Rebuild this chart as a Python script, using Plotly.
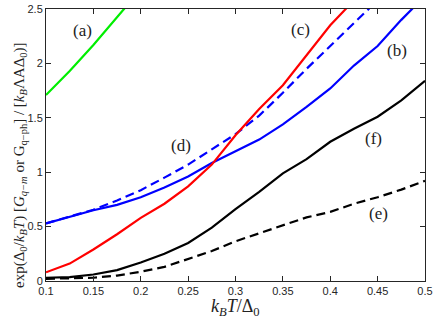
import plotly.graph_objects as go

# temperature grid k_B T / Delta_0
T = [0.1, 0.125, 0.15, 0.175, 0.2, 0.225, 0.25, 0.275, 0.3, 0.325,
     0.35, 0.375, 0.4, 0.425, 0.45, 0.475, 0.5]

# curve values
T_a = [0.1, 0.125, 0.15, 0.175, 0.2]
y_a = [1.71, 1.93, 2.17, 2.42, 2.68]
y_b = [0.53, 0.59, 0.65, 0.70, 0.77, 0.86, 0.96, 1.085, 1.19, 1.30,
       1.44, 1.60, 1.77, 1.98, 2.16, 2.40, 2.62]
T_c = [0.1, 0.125, 0.15, 0.175, 0.2, 0.225, 0.25, 0.275, 0.3, 0.325,
       0.35, 0.375, 0.4, 0.425]
y_c = [0.08, 0.16, 0.29, 0.43, 0.58, 0.71, 0.87, 1.07, 1.34, 1.58,
       1.80, 2.08, 2.35, 2.58]
T_d = [0.1, 0.125, 0.15, 0.175, 0.2, 0.225, 0.25, 0.275, 0.3, 0.325,
       0.35, 0.375, 0.4, 0.425, 0.45]
y_d = [0.53, 0.59, 0.655, 0.74, 0.835, 0.95, 1.07, 1.21, 1.35, 1.52,
       1.73, 1.95, 2.16, 2.37, 2.58]
y_e = [0.02, 0.022, 0.03, 0.05, 0.085, 0.13, 0.205, 0.275, 0.365, 0.44,
       0.51, 0.585, 0.635, 0.71, 0.77, 0.84, 0.92]
y_f = [0.03, 0.035, 0.06, 0.10, 0.17, 0.25, 0.35, 0.49, 0.66, 0.82,
       0.99, 1.12, 1.28, 1.40, 1.51, 1.66, 1.84]

labels = ['(a)', '(b)', '(c)', '(d)', '(e)', '(f)']
label_x = [0.139, 0.470, 0.369, 0.242, 0.451, 0.446]
label_y = [2.30, 2.12, 2.31, 1.25, 0.62, 1.31]

serif = 'Liberation Serif, Times New Roman, serif'
lw = 2.2

traces = [
    go.Scatter(x=T_a, y=y_a, mode='lines', line=dict(color='#00ee00', width=lw)),
    go.Scatter(x=T_d, y=y_d, mode='lines', line=dict(color='#0000ff', width=lw, dash='9px,5px')),
    go.Scatter(x=T, y=y_b, mode='lines', line=dict(color='#0000ff', width=lw)),
    go.Scatter(x=T_c, y=y_c, mode='lines', line=dict(color='#ff0000', width=lw)),
    go.Scatter(x=T, y=y_e, mode='lines', line=dict(color='black', width=lw, dash='9px,5px')),
    go.Scatter(x=T, y=y_f, mode='lines', line=dict(color='black', width=lw)),
]

axis = dict(showgrid=False, zeroline=False, showline=True, linecolor='#262626',
            linewidth=1, mirror='ticks', ticks='inside', ticklen=5,
            tickcolor='#262626', ticklabeloverflow='allow',
            tickfont=dict(family='Liberation Sans, Arial', size=11, color='#262626'))

layout = go.Layout(
    width=436, height=323,
    margin=dict(l=46, r=8, t=3, b=42),
    plot_bgcolor='white', paper_bgcolor='white',
    showlegend=False,
    xaxis=dict(axis, range=[0.1, 0.5], tickvals=[0.1, 0.15, 0.2, 0.25, 0.3, 0.35, 0.4, 0.45, 0.5],
               ticktext=['0.1', '0.15', '0.2', '0.25', '0.3', '0.35', '0.4', '0.45', '0.5']),
    yaxis=dict(axis, range=[0, 2.5], tickvals=[0, 0.5, 1, 1.5, 2, 2.5],
               ticktext=['0', '0.5', '1', '1.5', '2', '2.5']),
)

fig = go.Figure(data=traces, layout=layout)

for t, x, y in zip(labels, label_x, label_y):
    fig.add_annotation(x=x, y=y, text=t, showarrow=False,
                       font=dict(family=serif, size=17, color='#222222'))

fig.add_annotation(xref='paper', yref='paper', x=0.5, y=-0.099, yanchor='middle',
                   text='<i>k<sub>B</sub>T</i>/Δ<sub>0</sub>', showarrow=False,
                   font=dict(family=serif, size=18, color='#222222'))
fig.add_annotation(xref='paper', yref='paper', x=-0.096, y=0.425, textangle=-90,
                   text='exp(Δ<sub>0</sub>/<i>k<sub>B</sub>T</i>) [<i>G<sub>q−m</sub></i> or G<sub>q−ph</sub>] / [<i>k<sub>B</sub></i>ΛAΔ<sub>0</sub>)]',
                   showarrow=False, font=dict(family=serif, size=15, color='#222222'))

# drop the default page margin so the figure sits at the window's corner
fig.write_html("out.html", config={'displayModeBar': False},
               post_script="document.body.style.margin='0';")
